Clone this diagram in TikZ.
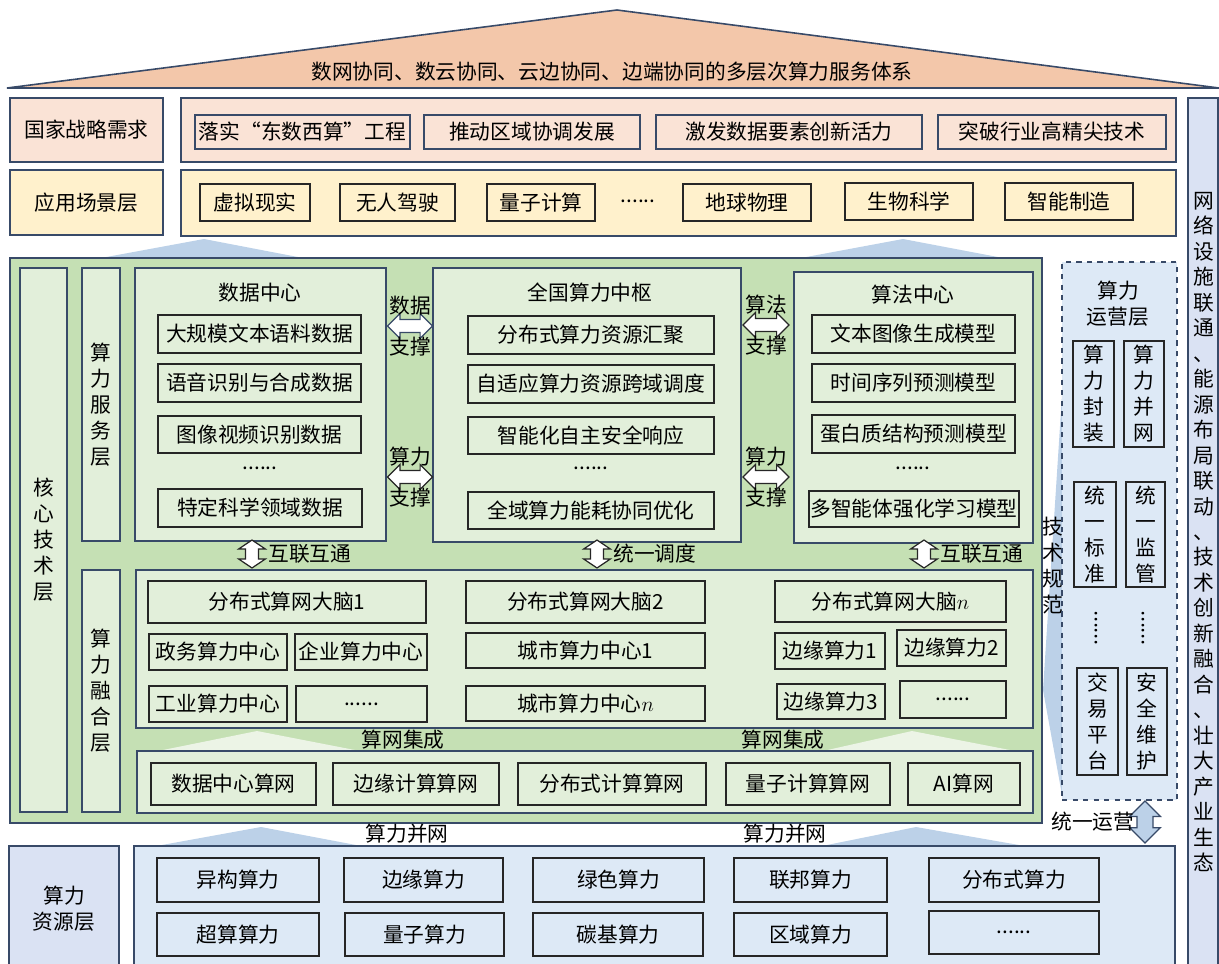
\documentclass[tikz,border=0pt]{standalone}
\usepackage{fontspec}
\setmainfont{Noto Sans CJK SC}
\usetikzlibrary{positioning,shapes.arrows}

\definecolor{edgec}{RGB}{56,74,104}
\definecolor{roofc}{RGB}{243,199,170}
\definecolor{stratc}{RGB}{250,227,214}
\definecolor{appc}{RGB}{255,241,204}
\definecolor{corec}{RGB}{197,224,180}
\definecolor{paleg}{RGB}{226,239,218}
\definecolor{opsc}{RGB}{221,233,246}
\definecolor{sidec}{RGB}{218,226,243}
\definecolor{resc}{RGB}{221,233,246}
\definecolor{funnelc}{RGB}{188,209,232}
\definecolor{seamc}{RGB}{236,244,230}

\newcommand{\bodyfs}{\fontsize{11.8}{14.8}\selectfont}
% box from its corners (pixel grid): [style]{name}{x1}{y1}{x2}{y2}{text}
\newcommand{\blk}[7][cell]{%
  \node[#1, minimum width={(#5-#3)*0.02cm}, minimum height={(#6-#4)*0.02cm}]
    (#2) at ({(#3+#5)/2},{(#4+#6)/2}) {#7};}

\tikzset{
  cell/.style={draw=black!85, line width=0.7pt, inner sep=0pt, font=\bodyfs, align=center},
  tier/.style={draw=edgec, line width=0.8pt, fill=#1, inner sep=0pt, font=\bodyfs, align=center},
  lbl/.style={inner sep=0pt, font=\bodyfs, align=center},
  harrow/.style={double arrow, draw=black!85, fill=white, line width=0.7pt, inner sep=3.4pt,
    double arrow head extend=3.3pt, double arrow head indent=0pt},
  varrow/.style={harrow, shape border rotate=90, double arrow head extend=3.8pt,
    double arrow tip angle=112},
  funnel/.style={fill=funnelc},
}

\begin{document}
\begin{tikzpicture}[x=0.02cm, y=-0.02cm]
\useasboundingbox (0,0) rectangle (1219,963);

% roof
\draw[fill=roofc, draw=edgec, line width=0.9pt] (7,88) -- (617,10) -- (1219,88) -- cycle;
\node[lbl] (roof) at (612,72) {数网协同、数云协同、云边协同、边端协同的多层次算力服务体系};

% strategy row
\blk[tier=stratc]{strat}{10}{98}{163}{162}{国家战略需求}
\blk[tier=stratc]{stratrow}{181}{98}{1176}{162}{}
\blk[cell, draw=edgec]{s1}{195}{115}{410}{149}{落实“东数西算”工程}
\blk[cell, draw=edgec]{s2}{424}{115}{640}{149}{推动区域协调发展}
\blk[cell, draw=edgec]{s3}{656}{115}{922}{149}{激发数据要素创新活力}
\blk[cell, draw=edgec]{s4}{938}{115}{1166}{149}{突破行业高精尖技术}

% application row
\blk[tier=appc]{app}{10}{170}{163}{235}{应用场景层}
\blk[tier=appc]{approw}{181}{170}{1176}{236}{}
\blk{p1}{200}{184}{310}{221}{虚拟现实}
\blk{p2}{340}{184}{455}{221}{无人驾驶}
\blk{p3}{487}{184}{595}{221}{量子计算}
\node[lbl] (p4) at (638,201) {......};
\blk{p5}{683}{184}{811}{221}{地球物理}
\blk{p6}{845}{183}{973}{220}{生物科学}
\blk{p7}{1005}{183}{1133}{220}{智能制造}

% side column
\blk[tier=sidec]{side}{1188}{98}{1218}{975}{}
\node[lbl, font=\fontsize{11.8}{14.5}\selectfont] (sidetext) at (1204,532)
  {网\\络\\设\\施\\联\\通\\、\\能\\源\\布\\局\\联\\动\\、\\技\\术\\创\\新\\融\\合\\、\\壮\\大\\产\\业\\生\\态};

% funnels into the core layer
\fill[funnel] (101,258) -- (204,239) -- (303,258) -- cycle;
\fill[funnel] (801,258) -- (903,239) -- (1003,258) -- cycle;

% core technology layer
\blk[tier=corec]{core}{10}{258}{1042}{823}{}
\blk[tier=paleg]{coretag}{20}{268}{67}{812}{核\\心\\技\\术\\层}
\blk[tier=paleg]{svctag}{82}{268}{120}{541}{算\\力\\服\\务\\层}
\blk[tier=paleg]{fusetag}{82}{570}{120}{812}{算\\力\\融\\合\\层}

% data centre
\blk[tier=paleg]{datac}{135}{268}{386}{541}{}
\node[lbl] (datatitle) at (260,293) {数据中心};
\blk{d1}{158}{315}{361}{353}{大规模文本语料数据}
\blk{d2}{158}{364}{361}{402}{语音识别与合成数据}
\blk{d3}{158}{416}{361}{453}{图像视频识别数据}
\node[lbl] (d4) at (260,468) {......};
\blk{d5}{158}{489}{362}{527}{特定科学领域数据}

% national hub
\blk[tier=paleg]{hub}{433}{268}{741}{542}{}
\node[lbl] (hubtitle) at (590,293) {全国算力中枢};
\blk{h1}{468}{316}{714}{354}{分布式算力资源汇聚}
\blk{h2}{468}{365}{714}{403}{自适应算力资源跨域调度}
\blk{h3}{468}{417}{714}{454}{智能化自主安全响应}
\node[lbl] (h4) at (591,468) {......};
\blk{h5}{468}{492}{714}{529}{全域算力能耗协同优化}

% algorithm centre
\blk[tier=paleg]{algo}{794}{272}{1033}{543}{}
\node[lbl] (algotitle) at (913,295) {算法中心};
\blk{a1}{812}{315}{1015}{353}{文本图像生成模型}
\blk{a2}{812}{364}{1015}{402}{时间序列预测模型}
\blk{a3}{812}{415}{1015}{453}{蛋白质结构预测模型}
\node[lbl] (a4) at (913,468) {......};
\blk{a5}{809}{491}{1019}{527}{多智能体强化学习模型}

% support arrows
\node[harrow, draw=edgec, minimum height=0.9cm] (ds1) at (410,326) {};
\node[lbl, above=2pt of ds1] {数据};
\node[lbl, below=2pt of ds1] {支撑};
\node[harrow, minimum height=0.9cm] (ds2) at (410,477) {};
\node[lbl, above=2pt of ds2] {算力};
\node[lbl, below=2pt of ds2] {支撑};
\node[harrow, minimum height=0.92cm] (as1) at (766,325) {};
\node[lbl, above=2pt of as1] {算法};
\node[lbl, below=2pt of as1] {支撑};
\node[harrow, minimum height=0.92cm] (as2) at (766,477) {};
\node[lbl, above=2pt of as2] {算力};
\node[lbl, below=2pt of as2] {支撑};

% links down to the fusion layer
\node[varrow, minimum height=0.56cm] (up1) at (252,554) {};
\node[lbl, right=5pt of up1] {互联互通};
\node[varrow, minimum height=0.56cm] (up2) at (597,554) {};
\node[lbl, right=5pt of up2] {统一调度};
\node[varrow, minimum height=0.56cm] (up3) at (924,554) {};
\node[lbl, right=5pt of up3] {互联互通};

% fusion layer
\blk[tier=paleg]{fuse}{136}{570}{1033}{728}{}
\blk{f1}{148}{581}{426}{623}{分布式算网大脑1}
\blk{f2}{466}{581}{705}{623}{分布式算网大脑2}
\blk{f3}{775}{581}{1006}{622}{分布式算网大脑$n$}
\blk{f4}{149}{634}{287}{670}{政务算力中心}
\blk{f5}{295}{634}{427}{670}{企业算力中心}
\blk{f6}{466}{633}{705}{668}{城市算力中心1}
\blk{f7}{775}{633}{885}{669}{边缘算力1}
\blk{f8}{897}{630}{1006}{666}{边缘算力2}
\blk{f9}{149}{686}{287}{722}{工业算力中心}
\blk{f10}{296}{686}{427}{722}{......}
\blk{f11}{466}{686}{705}{721}{城市算力中心$n$}
\blk{f12}{777}{684}{885}{719}{边缘算力3}
\blk{f13}{900}{681}{1006}{718}{......}

% compute network integration
\fill[seamc] (158,751) -- (257,731) -- (360,751) -- cycle;
\fill[seamc] (823,751) -- (912,731) -- (1015,751) -- cycle;
\node[lbl] (seam1) at (403,740) {算网集成};
\node[lbl] (seam2) at (783,740) {算网集成};
\blk[tier=paleg]{net}{137}{751}{1033}{813}{}
\blk{n1}{151}{763}{316}{805}{数据中心算网}
\blk{n2}{333}{763}{499}{805}{边缘计算算网}
\blk{n3}{518}{763}{706}{805}{分布式计算算网}
\blk{n4}{726}{763}{890}{805}{量子计算算网}
\blk{n5}{908}{763}{1020}{805}{AI算网}

% operation layer
\fill[funnel] (1062,395) -- (1043,690) -- (1062,795) -- cycle;
\node[lbl] (spec) at (1053,566) {技\\术\\规\\范};
\blk[tier=opsc, dashed]{ops}{1062}{262}{1177}{800}{}
\node[lbl] (opstitle) at (1118,304) {算力\\运营层};
\blk{o1}{1073}{341}{1114}{447}{算\\力\\封\\装}
\blk{o2}{1124}{341}{1164}{447}{算\\力\\并\\网}
\blk{o3}{1074}{482}{1116}{587}{统\\一\\标\\准}
\blk{o4}{1126}{482}{1165}{587}{统\\一\\监\\管}
\node[lbl, rotate=90] (o3dots) at (1096,628) {......};
\node[lbl, rotate=90] (o4dots) at (1143,628) {......};
\blk{o5}{1077}{668}{1118}{775}{交\\易\\平\\台}
\blk{o6}{1127}{668}{1167}{775}{安\\全\\维\\护}
\node[varrow, fill=funnelc, draw=edgec, inner sep=4.2pt, double arrow head extend=4.2pt,
  double arrow tip angle=90, minimum height=0.84cm] (opsarr) at (1145,822) {};
\node[lbl, left=1pt of opsarr] {统一运营};

% funnels out of the resource layer
\fill[funnel] (162,845) -- (261,827) -- (356,845) -- cycle;
\fill[funnel] (827,845) -- (916,827) -- (1019,845) -- cycle;
\node[lbl] (merge1) at (407,834) {算力并网};
\node[lbl] (merge2) at (785,834) {算力并网};

% resource layer
\blk[tier=sidec]{restag}{9}{846}{119}{972}{算力\\资源层}
\blk[tier=resc]{resrow}{134}{846}{1175}{975}{}
\blk{r1}{157}{858}{319}{902}{异构算力}
\blk{r2}{344}{858}{503}{902}{边缘算力}
\blk{r3}{533}{858}{704}{902}{绿色算力}
\blk{r4}{734}{858}{887}{902}{联邦算力}
\blk{r5}{929}{858}{1099}{902}{分布式算力}
\blk{r6}{157}{913}{319}{956}{超算算力}
\blk{r7}{345}{913}{504}{956}{量子算力}
\blk{r8}{533}{913}{703}{956}{碳基算力}
\blk{r9}{734}{913}{887}{956}{区域算力}
\blk{r10}{929}{911}{1099}{954}{......}
\end{tikzpicture}
\end{document}
